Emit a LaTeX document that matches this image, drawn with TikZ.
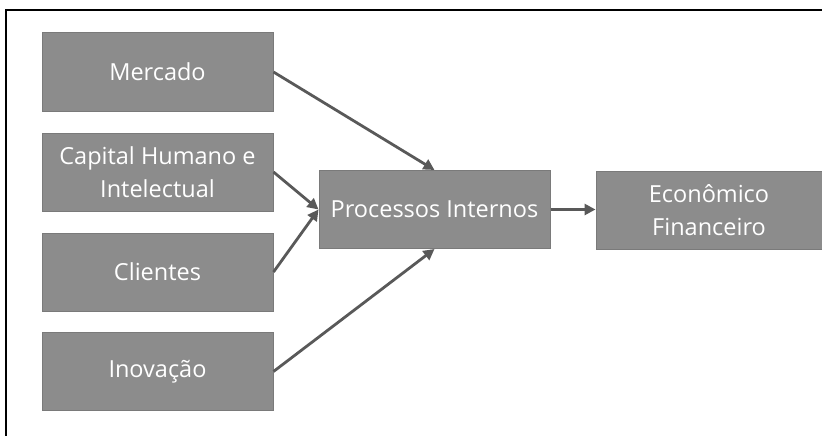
\documentclass[tikz,border=0pt]{standalone}
\usepackage{fontspec}
\setmainfont{Open Sans}
\usetikzlibrary{arrows.meta}
\definecolor{boxgray}{HTML}{8C8C8C}
\definecolor{boxedge}{HTML}{7A7A7A}
\definecolor{arrowgray}{HTML}{595959}
\tikzset{
  blk/.style={draw=boxedge, line width=1pt, fill=boxgray, text=white, align=center,
    inner sep=0pt, font=\fontsize{23.5}{33}\selectfont},
  conn/.style={draw=arrowgray, line width=2.8pt, -{Triangle[length=11pt,width=11pt]}}
}
\begin{document}
\begin{tikzpicture}[x=1pt,y=-1pt]
\useasboundingbox (0,0) rectangle (822,436);
\fill[white] (0,0) rectangle (822,436);
\draw[line width=1.5pt] (6,436) -- (6,10) -- (822,10);
\node[blk, minimum width=231pt, minimum height=78pt] (merc) at (157.5,72) {Mercado};
\node[blk, minimum width=231pt, minimum height=78pt] (cap) at (157.5,172) {Capital Humano e\\Intelectual};
\node[blk, minimum width=231pt, minimum height=78pt] (cli) at (157.5,272) {Clientes};
\node[blk, minimum width=231pt, minimum height=78pt] (inov) at (157.5,371.5) {Inovação};
\node[blk, minimum width=231pt, minimum height=78pt] (proc) at (434.5,209.5) {Processos Internos};
\node[blk, minimum width=226pt, minimum height=78pt] (eco) at (709,210.5) {Econômico\\Financeiro};
\draw[conn] (merc.east) -- (proc.north);
\draw[conn] (cap.east) -- (proc.west);
\draw[conn] (cli.east) -- (proc.west);
\draw[conn] (inov.east) -- (proc.south);
\draw[conn] (proc.east) -- (proc.east -| eco.west);
\end{tikzpicture}
\end{document}
